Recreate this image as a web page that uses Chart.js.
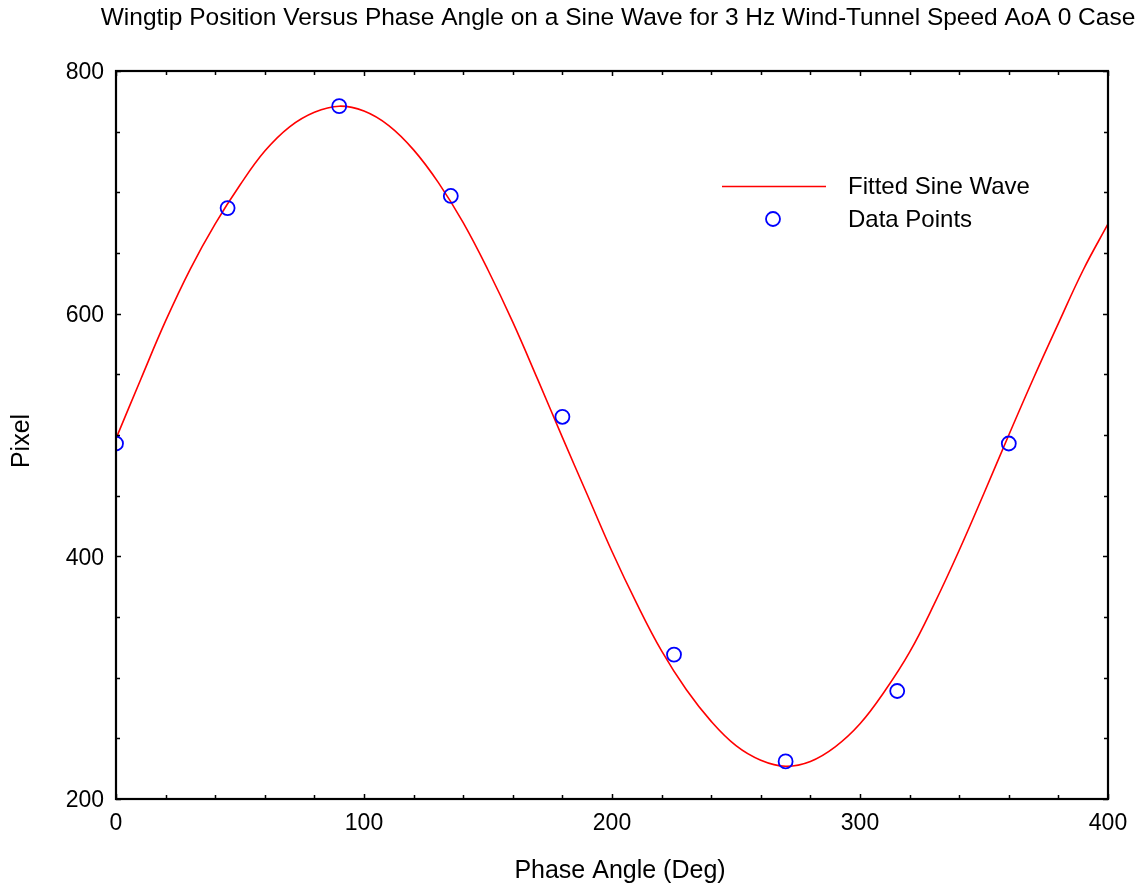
<!DOCTYPE html>
<html>
<head>
<meta charset="utf-8">
<script src="https://cdn.jsdelivr.net/npm/chart.js@4"></script>
<style>
  html, body { margin: 0; padding: 0; background: #fff; }
</style>
</head>
<body>
<canvas id="wingChart" width="1143" height="886"></canvas>
<script>
// data
const pointAngles = [0, 45, 90, 135, 180, 225, 270, 315, 360];
const pointPixels = [493, 687, 771, 697, 515, 319, 231, 289, 493];

// fitted curve, read every 10 deg
const fitAngles = [0, 10, 20, 30, 40, 50, 60, 70, 80, 90, 100, 110, 120, 130, 140, 150, 160, 170, 180, 190, 200,
                   210, 220, 230, 240, 250, 260, 270, 280, 290, 300, 310, 320, 330, 340, 350, 360, 370, 380, 390, 400];
const fitPixels = [497, 546, 594, 637, 674, 706, 734, 754, 766, 771, 767, 755, 735, 708, 675, 636, 593, 546, 498, 451, 404,
                   361, 322, 290, 264, 244, 232, 227, 231, 243, 262, 289, 321, 361, 405, 452, 500, 547, 592, 636, 674];

const xTicks = [0, 100, 200, 300, 400];
const yTicks = [200, 400, 600, 800];

const FONT = "'Liberation Sans', Arial, sans-serif";
const RED = '#ff0000';
const BLUE = '#0000ff';

// frame, inward ticks, titles and legend
const framePlugin = {
    id: 'frame',
    afterDatasetsDraw(c) {
        const { ctx, chartArea: a, scales } = c;
        ctx.save();
        ctx.strokeStyle = '#000';
        ctx.lineWidth = 1.5;
        ctx.beginPath();
        for (let v = 0; v <= 400; v += 20) {
            const px = Math.round(scales.x.getPixelForValue(v)) + 0.5;
            const len = v % 100 === 0 ? 5 : 4;
            ctx.moveTo(px, a.bottom); ctx.lineTo(px, a.bottom - len);
            ctx.moveTo(px, a.top); ctx.lineTo(px, a.top + len);
        }
        for (let v = 200; v <= 800; v += 50) {
            const py = Math.round(scales.y.getPixelForValue(v)) + 0.5;
            const len = v % 200 === 0 ? 5 : 4;
            ctx.moveTo(a.left, py); ctx.lineTo(a.left + len, py);
            ctx.moveTo(a.right, py); ctx.lineTo(a.right - len, py);
        }
        ctx.stroke();
        ctx.lineWidth = 2.2;
        ctx.strokeRect(a.left, a.top, a.right - a.left, a.bottom - a.top);

        // legend
        ctx.strokeStyle = RED;
        ctx.lineWidth = 1.6;
        ctx.beginPath();
        ctx.moveTo(722, 186.5); ctx.lineTo(826, 186.5);
        ctx.stroke();
        ctx.strokeStyle = BLUE;
        ctx.lineWidth = 1.8;
        ctx.beginPath();
        ctx.arc(773, 219, 7, 0, Math.PI * 2);
        ctx.stroke();
        ctx.fillStyle = '#000';
        ctx.font = '24px ' + FONT;
        ctx.textAlign = 'left';
        ctx.textBaseline = 'middle';
        ctx.fillText('Fitted Sine Wave', 848, 187);
        ctx.fillText('Data Points', 848, 220);

        // titles
        ctx.textAlign = 'center';
        ctx.font = '24.5px ' + FONT;
        ctx.fillText('Wingtip Position Versus Phase Angle on a Sine Wave for 3 Hz Wind-Tunnel Speed AoA 0 Case', 618, 18);
        ctx.font = '25px ' + FONT;
        ctx.fillText('Phase Angle (Deg)', 620, 871);
        ctx.translate(22, 441);
        ctx.rotate(-Math.PI / 2);
        ctx.fillText('Pixel', 0, 0);
        ctx.restore();
    }
};

new Chart(document.getElementById('wingChart'), {
    type: 'scatter',
    data: {
        datasets: [{
            label: 'Data Points',
            data: pointAngles.map((a, i) => ({ x: a, y: pointPixels[i] })),
            showLine: false,
            pointStyle: 'circle',
            pointRadius: 7,
            pointBorderWidth: 1.8,
            pointBorderColor: BLUE,
            pointBackgroundColor: 'rgba(0,0,0,0)',
            clip: 0,
            order: 0
        }, {
            label: 'Fitted Sine Wave',
            data: fitAngles.map((a, i) => ({ x: a, y: fitPixels[i] })),
            showLine: true,
            borderColor: RED,
            borderWidth: 1.6,
            pointRadius: 0,
            tension: 0.4,
            order: 1
        }]
    },
    options: {
        responsive: false,
        animation: false,
        layout: { padding: { top: 71, right: 35, bottom: 0, left: 0 } },
        plugins: {
            legend: { display: false },
            title: { display: false },
            tooltip: { enabled: false }
        },
        scales: {
            x: {
                type: 'linear',
                min: 0, max: 400,
                afterBuildTicks: s => { s.ticks = xTicks.map(v => ({ value: v })); },
                afterFit: s => { s.height = 87; },
                grid: { display: false, drawTicks: false },
                border: { display: false },
                ticks: { color: '#000', padding: 11, font: { family: FONT, size: 23 } }
            },
            y: {
                type: 'linear',
                min: 200, max: 800,
                afterBuildTicks: s => { s.ticks = yTicks.map(v => ({ value: v })); },
                afterFit: s => { s.width = 116; },
                grid: { display: false, drawTicks: false },
                border: { display: false },
                ticks: { color: '#000', padding: 12, labelOffset: 2, font: { family: FONT, size: 23 } }
            }
        }
    },
    plugins: [framePlugin]
});
</script>
</body>
</html>
